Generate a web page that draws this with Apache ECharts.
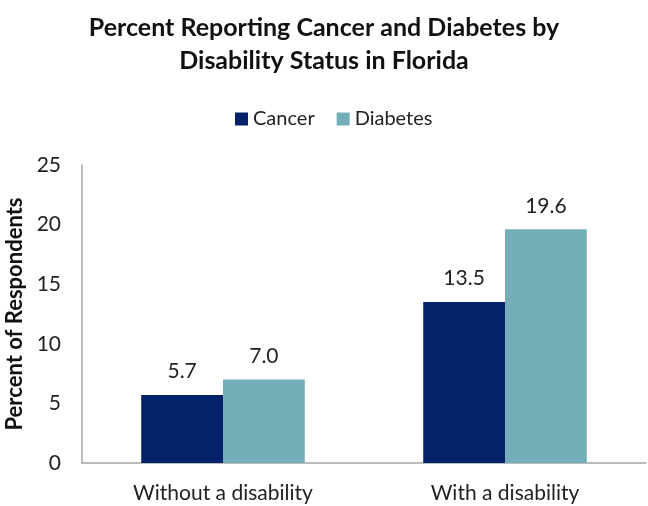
<!DOCTYPE html>
<html>
<head>
<meta charset="utf-8">
<script src="https://cdn.jsdelivr.net/npm/echarts@6/dist/echarts.min.js"></script>
<style>
  html, body { margin: 0; padding: 0; background: #fff; }
  #chart { width: 648px; height: 506px; }
</style>
</head>
<body>
<div id="chart"></div>
<script>
// data
var categories = ['Without a disability', 'With a disability'];
var cancer = [5.7, 13.5];
var diabetes = [7.0, 19.6];
var yTicks = [0, 5, 10, 15, 20, 25];

var font = 'Lato';
var chart = echarts.init(document.getElementById('chart'));

var option = {
  backgroundColor: '#fff',
  animation: false,
  title: {
    text: 'Percent Reporting Cancer and Diabetes by\nDisability Status in Florida',
    left: 'center',
    top: 6,
    textStyle: {
      fontFamily: font,
      fontWeight: 'bold',
      fontSize: 25,
      lineHeight: 33,
      color: '#111'
    }
  },
  legend: {
    top: 104,
    left: 230,
    itemWidth: 13,
    itemHeight: 13,
    itemGap: 22,
    icon: 'rect',
    textStyle: { fontFamily: font, fontSize: 20, color: '#222' },
    data: ['Cancer', 'Diabetes']
  },
  grid: { left: 82, right: 2, top: 165, bottom: 43, containLabel: false, outerBoundsMode: 'none' },
  xAxis: {
    type: 'category',
    data: categories,
    axisLine: { lineStyle: { color: '#a6a6a6', width: 1.5 } },
    axisTick: { show: false },
    axisLabel: { fontFamily: font, fontSize: 21, color: '#222', margin: 20 }
  },
  yAxis: {
    type: 'value',
    min: yTicks[0],
    max: yTicks[yTicks.length - 1],
    interval: 5,
    name: 'Percent of Respondents',
    nameLocation: 'middle',
    nameGap: 54,
    nameTextStyle: { fontFamily: font, fontWeight: 'bold', fontSize: 22, color: '#111' },
    axisLine: { show: true, lineStyle: { color: '#a6a6a6', width: 1.5 } },
    axisTick: { show: false },
    splitLine: { show: false },
    axisLabel: { fontFamily: font, fontSize: 21, color: '#222', margin: 21 }
  },
  series: [
    {
      name: 'Cancer',
      type: 'bar',
      data: cancer,
      barGap: '0%',
      barCategoryGap: '42%',
      itemStyle: { color: '#03226A' },
      label: {
        show: true, position: 'top', distance: 13,
        fontFamily: font, fontSize: 21, color: '#222',
        formatter: function (p) { return p.value.toFixed(1); }
      }
    },
    {
      name: 'Diabetes',
      type: 'bar',
      data: diabetes,
      itemStyle: { color: '#74AFB9' },
      label: {
        show: true, position: 'top', distance: 13,
        fontFamily: font, fontSize: 21, color: '#222',
        formatter: function (p) { return p.value.toFixed(1); }
      }
    }
  ]
};

chart.setOption(option);
</script>
</body>
</html>
